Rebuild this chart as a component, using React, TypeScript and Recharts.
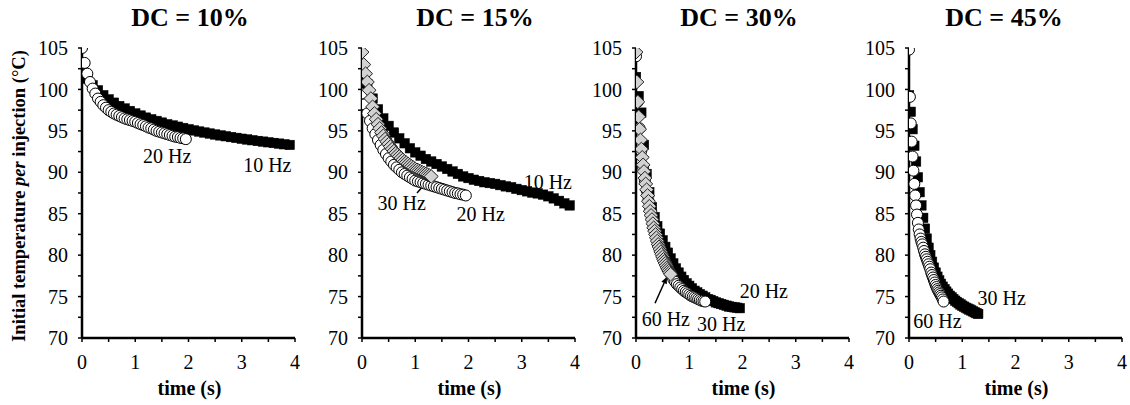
import React from 'react';
import { ScatterChart, Scatter, XAxis, YAxis, ReferenceLine, Label } from 'recharts';

const FONT = '"Liberation Serif", "Times New Roman", Times, serif';

// injection times (s) for each stimulation frequency
const time10Hz = [0, 0.1, 0.2, 0.3, 0.4, 0.5, 0.6, 0.7, 0.8, 0.9, 1.0, 1.1, 1.2, 1.3, 1.4, 1.5, 1.6, 1.7, 1.8, 1.9, 2.0, 2.1, 2.2, 2.3, 2.4, 2.5, 2.6, 2.7, 2.8, 2.9, 3.0, 3.1, 3.2, 3.3, 3.4, 3.5, 3.6, 3.7, 3.8, 3.9];
const time20Hz = [0, 0.05, 0.1, 0.15, 0.2, 0.25, 0.3, 0.35, 0.4, 0.45, 0.5, 0.55, 0.6, 0.65, 0.7, 0.75, 0.8, 0.85, 0.9, 0.95, 1.0, 1.05, 1.1, 1.15, 1.2, 1.25, 1.3, 1.35, 1.4, 1.45, 1.5, 1.55, 1.6, 1.65, 1.7, 1.75, 1.8, 1.85, 1.9, 1.95];
const time30Hz = [0, 0.033, 0.067, 0.1, 0.133, 0.167, 0.2, 0.233, 0.267, 0.3, 0.333, 0.367, 0.4, 0.433, 0.467, 0.5, 0.533, 0.567, 0.6, 0.633, 0.667, 0.7, 0.733, 0.767, 0.8, 0.833, 0.867, 0.9, 0.933, 0.967, 1.0, 1.033, 1.067, 1.1, 1.133, 1.167, 1.2, 1.233, 1.267, 1.3];
const time60Hz = [0, 0.017, 0.033, 0.05, 0.067, 0.083, 0.1, 0.117, 0.133, 0.15, 0.167, 0.183, 0.2, 0.217, 0.233, 0.25, 0.267, 0.283, 0.3, 0.317, 0.333, 0.35, 0.367, 0.383, 0.4, 0.417, 0.433, 0.45, 0.467, 0.483, 0.5, 0.517, 0.533, 0.55, 0.567, 0.583, 0.6, 0.617, 0.633, 0.65];

// DC = 10%
const dc10_10Hz = [102.0, 101.3, 100.5, 99.9, 99.3, 98.8, 98.4, 98.0, 97.7, 97.4, 97.1, 96.85, 96.6, 96.4, 96.2, 96.0, 95.8, 95.65, 95.5, 95.35, 95.2, 95.05, 94.92, 94.8, 94.68, 94.56, 94.45, 94.35, 94.25, 94.15, 94.05, 93.96, 93.87, 93.78, 93.7, 93.62, 93.54, 93.46, 93.38, 93.3];
const dc10_20Hz = [105.0, 103.2, 101.9, 100.9, 100.1, 99.5, 98.9, 98.5, 98.1, 97.8, 97.5, 97.3, 97.1, 96.95, 96.8, 96.65, 96.5, 96.4, 96.3, 96.2, 96.1, 95.95, 95.8, 95.7, 95.55, 95.4, 95.3, 95.15, 95.0, 94.9, 94.8, 94.7, 94.6, 94.5, 94.4, 94.3, 94.25, 94.15, 94.1, 94.0];

// DC = 15%
const dc15_10Hz = [102.3, 100.6, 98.9, 97.6, 96.5, 95.6, 94.8, 94.1, 93.5, 92.9, 92.4, 92.0, 91.6, 91.3, 91.0, 90.7, 90.4, 90.1, 89.8, 89.5, 89.3, 89.1, 88.95, 88.8, 88.7, 88.6, 88.45, 88.3, 88.2, 88.0, 87.85, 87.7, 87.55, 87.45, 87.3, 87.1, 86.85, 86.55, 86.25, 86.0];
const dc15_20Hz = [99.5, 98.2, 97.1, 96.2, 95.3, 94.6, 93.9, 93.3, 92.7, 92.2, 91.7, 91.3, 90.9, 90.6, 90.3, 90.0, 89.8, 89.6, 89.4, 89.2, 89.0, 88.9, 88.8, 88.7, 88.6, 88.5, 88.4, 88.3, 88.2, 88.1, 88.0, 87.9, 87.8, 87.7, 87.6, 87.5, 87.45, 87.35, 87.3, 87.2];
const dc15_30Hz = [104.5, 103.0, 101.9, 100.9, 99.9, 98.9, 97.9, 97.1, 96.4, 95.8, 95.3, 94.8, 94.4, 94.0, 93.7, 93.4, 93.1, 92.8, 92.55, 92.3, 92.1, 91.9, 91.7, 91.5, 91.3, 91.15, 91.0, 90.85, 90.7, 90.55, 90.4, 90.3, 90.2, 90.1, 90.0, 89.9, 89.8, 89.7, 89.6, 89.5];

// DC = 30%
const dc30_20Hz = [101.5, 99.2, 97.2, 93.3, 89.8, 87.6, 85.8, 84.6, 83.5, 82.6, 81.8, 81.0, 80.3, 79.6, 79.0, 78.4, 77.9, 77.4, 77.0, 76.6, 76.3, 76.0, 75.7, 75.5, 75.3, 75.1, 74.9, 74.7, 74.6, 74.45, 74.3, 74.2, 74.1, 74.0, 73.9, 73.8, 73.75, 73.7, 73.65, 73.6];
const dc30_30Hz = [104.0, 98.5, 95.3, 92.6, 90.6, 89.0, 87.8, 86.6, 85.5, 84.5, 83.5, 82.6, 81.8, 81.1, 80.4, 79.8, 79.3, 78.8, 78.3, 77.9, 77.5, 77.1, 76.8, 76.5, 76.3, 76.1, 75.9, 75.7, 75.55, 75.4, 75.25, 75.1, 75.0, 74.9, 74.8, 74.7, 74.6, 74.5, 74.45, 74.4];
const dc30_60Hz = [104.5, 100.9, 98.5, 96.7, 95.2, 93.9, 92.8, 91.8, 90.9, 90.1, 89.3, 88.6, 87.9, 87.2, 86.5, 85.9, 85.3, 84.8, 84.3, 83.8, 83.3, 82.9, 82.5, 82.1, 81.7, 81.3, 81.0, 80.7, 80.4, 80.1, 79.8, 79.5, 79.25, 79.0, 78.75, 78.5, 78.3, 78.1, 77.9, 77.7];

// DC = 45%
const dc45_30Hz = [99.3, 97.3, 95.2, 93.2, 91.3, 89.4, 87.6, 86.0, 84.5, 83.2, 82.0, 80.9, 80.0, 79.2, 78.5, 77.9, 77.4, 76.95, 76.55, 76.2, 75.9, 75.6, 75.35, 75.1, 74.9, 74.7, 74.5, 74.35, 74.2, 74.05, 73.9, 73.78, 73.66, 73.55, 73.44, 73.33, 73.22, 73.11, 73.0, 72.9];
const dc45_60Hz = [104.8, 99.1, 95.9, 93.7, 91.9, 90.2, 88.6, 87.2, 86.0, 84.9, 83.9, 83.1, 82.5, 82.0, 81.6, 81.3, 80.9, 80.5, 80.1, 79.8, 79.5, 79.2, 78.9, 78.6, 78.3, 77.9, 77.6, 77.3, 77.0, 76.7, 76.4, 76.15, 75.9, 75.7, 75.5, 75.3, 75.1, 74.9, 74.65, 74.4];

// axis ticks
const xTicks = [0, 0.5, 1, 1.5, 2, 2.5, 3, 3.5, 4];
const yTicks = [70, 72.5, 75, 77.5, 80, 82.5, 85, 87.5, 90, 92.5, 95, 97.5, 100, 102.5, 105];

// frequency labels (placed in data coordinates)
const dc10Labels = [
  { t: 1.6, v: 92.0, text: '20 Hz' },
  { t: 3.48, v: 90.9, text: '10 Hz' },
];
const dc15Labels = [
  { t: 0.745, v: 86.25, text: '30 Hz' },
  { t: 2.23, v: 85.0, text: '20 Hz' },
  { t: 3.49, v: 88.8, text: '10 Hz' },
];
const dc30Labels = [
  { t: 0.56, v: 72.3, text: '60 Hz' },
  { t: 1.6, v: 71.7, text: '30 Hz' },
  { t: 2.4, v: 75.7, text: '20 Hz' },
];
const dc45Labels = [
  { t: 0.535, v: 72.0, text: '60 Hz' },
  { t: 1.74, v: 74.8, text: '30 Hz' },
];

const dc15Arrows = [{ from: { t: 1.033, v: 87.5 }, to: { t: 1.25, v: 89.1 } }];
const dc30Arrows = [{ from: { t: 0.357, v: 74.2 }, to: { t: 0.582, v: 77.4 } }];

const toPoints = (times: number[], values: number[]) => values.map((v, i) => ({ t: times[i], v }));

const SquareShape = (p: any) => (
  <rect x={p.cx - 4.75} y={p.cy - 4.75} width={9.5} height={9.5} fill="#000" stroke="#000" strokeWidth={0.5} />
);
const CircleShape = (p: any) => (
  <circle cx={p.cx} cy={p.cy} r={5.5} fill="#fff" stroke="#000" strokeWidth={1} />
);
const DiamondShape = (p: any) => (
  <polygon
    points={`${p.cx},${p.cy - 6.8} ${p.cx + 7},${p.cy} ${p.cx},${p.cy + 6.8} ${p.cx - 7},${p.cy}`}
    fill="#d2d2d2"
    stroke="#222"
    strokeWidth={1}
  />
);
const TextShape = (p: any) => (
  <text
    x={p.cx}
    y={p.cy}
    textAnchor="middle"
    dominantBaseline="central"
    fontSize={20}
    fontFamily={FONT}
    fill="#000"
  >
    {(p.payload && p.payload.text) || p.text}
  </text>
);
const ArrowShape = (p: any) => {
  const { x1, y1, x2, y2 } = p;
  const ang = Math.atan2(y2 - y1, x2 - x1);
  const L = 7;
  const W = 3;
  const bx = x2 - L * Math.cos(ang);
  const by = y2 - L * Math.sin(ang);
  const px = -Math.sin(ang) * W;
  const py = Math.cos(ang) * W;
  return (
    <g>
      <line x1={x1} y1={y1} x2={bx} y2={by} stroke="#000" strokeWidth={1.5} />
      <polygon points={`${x2},${y2} ${bx + px},${by + py} ${bx - px},${by - py}`} fill="#000" />
    </g>
  );
};

const shapes: Record<string, any> = { square: SquareShape, circle: CircleShape, diamond: DiamondShape };

const panels = [
  {
    title: 'DC = 10%',
    titleCenter: 190,
    x0: 82,
    series: [
      { kind: 'square', data: toPoints(time10Hz, dc10_10Hz) },
      { kind: 'circle', data: toPoints(time20Hz, dc10_20Hz) },
    ],
    labels: dc10Labels,
    arrows: [] as any[],
  },
  {
    title: 'DC = 15%',
    titleCenter: 475,
    x0: 362,
    series: [
      { kind: 'square', data: toPoints(time10Hz, dc15_10Hz) },
      { kind: 'circle', data: toPoints(time20Hz, dc15_20Hz) },
      { kind: 'diamond', data: toPoints(time30Hz, dc15_30Hz) },
    ],
    labels: dc15Labels,
    arrows: dc15Arrows,
  },
  {
    title: 'DC = 30%',
    titleCenter: 739,
    x0: 636,
    series: [
      { kind: 'square', data: toPoints(time20Hz, dc30_20Hz) },
      { kind: 'circle', data: toPoints(time30Hz, dc30_30Hz) },
      { kind: 'diamond', data: toPoints(time60Hz, dc30_60Hz) },
    ],
    labels: dc30Labels,
    arrows: dc30Arrows,
  },
  {
    title: 'DC = 45%',
    titleCenter: 1004,
    x0: 909,
    series: [
      { kind: 'square', data: toPoints(time30Hz, dc45_30Hz) },
      { kind: 'circle', data: toPoints(time60Hz, dc45_60Hz) },
    ],
    labels: dc45Labels,
    arrows: [] as any[],
  },
];

const PLOT_W = 213;
const RIGHT = 12;

const YLabel = () => (
  <text
    x={25}
    y={196}
    transform="rotate(-90, 25, 196)"
    textAnchor="middle"
    fontSize={18.5}
    fontWeight="bold"
    fontFamily={FONT}
    fill="#000"
  >
    Initial temperature <tspan fontStyle="italic">per</tspan> injection (°C)
  </text>
);

const XLabel = (props: any) => {
  const vb = props.viewBox || { x: 0, width: 0 };
  return (
    <text
      x={vb.x + vb.width / 2 + 1}
      y={395}
      textAnchor="middle"
      fontSize={20}
      fontWeight="bold"
      fontFamily={FONT}
      fill="#000"
    >
      time (s)
    </text>
  );
};

function Panel({ cfg, index }: { cfg: any; index: number }) {
  const axisWidth = index === 0 ? cfg.x0 : 50;
  const left = cfg.x0 - axisWidth;
  const width = axisWidth + PLOT_W + RIGHT;
  return (
    <div style={{ position: 'absolute', left, top: 0 }}>
      <ScatterChart width={width} height={405} margin={{ top: 48, right: RIGHT, bottom: 37, left: 0 }}>
        <XAxis
          type="number"
          dataKey="t"
          domain={[0, 4]}
          ticks={xTicks}
          interval={0}
          allowDataOverflow
          height={30}
          tickFormatter={(v: number) => (Number.isInteger(v) ? String(v) : '')}
          axisLine={{ stroke: '#000', strokeWidth: 2.5 }}
          tickLine={{ stroke: '#000', strokeWidth: 1.5 }}
          tickSize={4}
          tickMargin={13}
          tick={{ fill: '#000', fontSize: 20, fontFamily: FONT }}
        >
          <Label content={XLabel} />
        </XAxis>
        <YAxis
          type="number"
          dataKey="v"
          domain={[70, 105]}
          ticks={yTicks}
          interval={0}
          allowDataOverflow
          width={axisWidth}
          tickFormatter={(v: number) => (v % 5 === 0 ? String(v) : '')}
          axisLine={{ stroke: '#000', strokeWidth: 2.5 }}
          tickLine={{ stroke: '#000', strokeWidth: 1.5 }}
          tickSize={4}
          tickMargin={10}
          tick={{ fill: '#000', fontSize: 20, fontFamily: FONT }}
        >
          {index === 0 ? <Label content={YLabel} /> : null}
        </YAxis>
        {cfg.series.map((s: any, i: number) => (
          <Scatter
            key={`s${i}`}
            data={s.data}
            shape={shapes[s.kind]}
            isAnimationActive={false}
          />
        ))}
        {cfg.arrows.map((a: any, i: number) => (
          <ReferenceLine
            key={`a${i}`}
            segment={[
              { x: a.from.t, y: a.from.v },
              { x: a.to.t, y: a.to.v },
            ]}
            shape={ArrowShape}
            ifOverflow="visible"
          />
        ))}
        <Scatter data={cfg.labels} shape={TextShape} isAnimationActive={false} />
      </ScatterChart>
    </div>
  );
}

export default function App() {
  return (
    <div
      style={{
        position: 'absolute',
        left: 0,
        top: 0,
        width: 1130,
        height: 405,
        background: '#fff',
        overflow: 'hidden',
        fontFamily: FONT,
      }}
    >
      {panels.map((p, i) => (
        <div
          key={`t${i}`}
          style={{
            position: 'absolute',
            left: p.titleCenter - 100,
            width: 200,
            top: 5,
            textAlign: 'center',
            fontSize: 26,
            lineHeight: '26px',
            fontWeight: 'bold',
            fontFamily: FONT,
            color: '#000',
          }}
        >
          {p.title}
        </div>
      ))}
      {panels.map((p, i) => (
        <Panel key={`p${i}`} cfg={p} index={i} />
      ))}
    </div>
  );
}
